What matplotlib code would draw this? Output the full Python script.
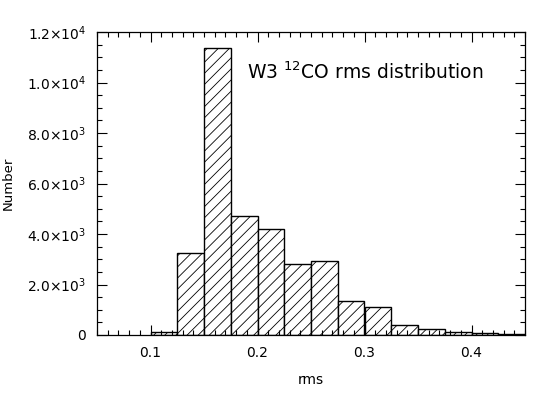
import matplotlib
matplotlib.use('Agg')
import matplotlib.pyplot as plt
from matplotlib.ticker import MultipleLocator

# histogram bins (rms) and counts
bin_edges = [0.100, 0.125, 0.150, 0.175, 0.200, 0.225, 0.250, 0.275,
             0.300, 0.325, 0.350, 0.375, 0.400, 0.425, 0.450]
counts = [110, 3240, 11370, 4700, 4180, 2800, 2920, 1360,
          1090, 400, 225, 115, 80, 50]

ytick_vals = [0, 2000, 4000, 6000, 8000, 10000, 12000]
ytick_labels = ['0', '2.0×10$^{3}$', '4.0×10$^{3}$', '6.0×10$^{3}$',
                '8.0×10$^{3}$', '1.0×10$^{4}$', '1.2×10$^{4}$']
xtick_vals = [0.1, 0.2, 0.3, 0.4]

plt.rcParams['font.family'] = ['DejaVu Sans']
plt.rcParams['hatch.linewidth'] = 0.6

fig = plt.figure(figsize=(5.55, 3.97), dpi=100)
ax = fig.add_axes([97/555, 62/397, 428/555, 303/397])

widths = [bin_edges[i+1] - bin_edges[i] for i in range(len(counts))]
ax.bar(bin_edges[:-1], counts, width=widths, align='edge',
       facecolor='white', edgecolor='black', linewidth=1.0, hatch='///')

ax.set_xlim(0.05, 0.45)
ax.set_ylim(0, 12000)

ax.set_xticks(xtick_vals)
ax.set_xticklabels(['0.1', '0.2', '0.3', '0.4'])
ax.xaxis.set_minor_locator(MultipleLocator(0.01))
ax.set_yticks(ytick_vals)
ax.set_yticklabels(ytick_labels)
ax.yaxis.set_minor_locator(MultipleLocator(500))

ax.tick_params(which='both', direction='in', top=True, right=True,
               labelsize=10, width=0.8, pad=8)
ax.tick_params(which='major', length=7)
ax.tick_params(which='minor', length=3.5)
for s in ax.spines.values():
    s.set_linewidth(0.9)

ax.set_xlabel('rms', fontsize=10, labelpad=9)
ax.set_ylabel('Number', fontsize=9.5, labelpad=9)

ax.text(0.35, 0.868, r'W3 $^{12}$CO rms distribution', transform=ax.transAxes,
        fontsize=13.5, va='center', ha='left')

fig.savefig('out.png', dpi=100)
